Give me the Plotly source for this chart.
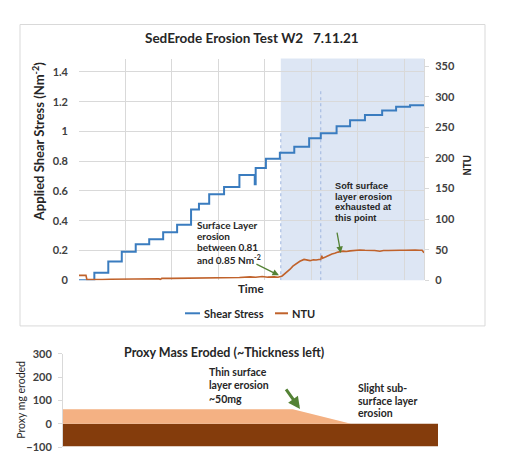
import plotly.graph_objects as go

# ---------------- data ----------------
# Shear stress step series (time units: one vertical gridline = 10)
stress_time = [0, 3.3, 6.3, 9.2, 12.2, 15.1, 18.1, 21.1, 24.1, 25.8, 28.0, 31.2, 34.5,
               37.8, 38.0, 40.2, 43.2, 46.3, 49.5, 52.0, 55.4, 58.3, 61.5, 65.2, 68.2, 71.2, 74.2]
stress_value = [0, 0.05, 0.126, 0.192, 0.242, 0.275, 0.322, 0.373, 0.475, 0.514, 0.577, 0.627, 0.708,
                0.645, 0.754, 0.817, 0.856, 0.897, 0.954, 0.987, 1.035, 1.076, 1.111, 1.14, 1.166, 1.176, 1.176]

# NTU (turbidity) series
ntu_time = [0, 1.5, 1.7, 3.2, 5.0, 6.7, 9.0, 11.0, 13.5, 15.3, 17.2, 17.5, 17.8, 20.0, 23.0, 26.0,
            28.2, 30.0, 32.5, 34.5, 36.8, 38.0, 39.4, 40.6, 42.0, 42.8, 43.7, 44.5, 45.4, 46.0,
            46.7, 47.5, 48.4, 49.0, 49.7, 50.4, 51.0, 51.6, 52.0, 52.2, 52.4, 53.0, 53.5, 54.4,
            55.0, 55.7, 56.8, 57.5, 58.3, 59.3, 60.4, 61.5, 62.6, 63.6, 64.7, 65.5, 66.5, 68.0,
            69.0, 70.1, 71.2, 72.3, 73.2, 73.8, 74.2]
ntu_value = [8, 8, 1, 0.5, 1.0, 1.5, 1.8, 2, 2.2, 2.5, 2.5, 1.2, 3, 3, 3.2, 3.5,
             4.5, 4.0, 4, 4.5, 5.5, 5.0, 6, 5, 5.5, 5, 7, 12, 18, 23,
             27, 31, 34, 33, 32, 33.5, 33, 34, 34, 40, 36, 38, 40, 43,
             44, 46, 47.5, 47, 48, 49, 49.5, 49, 49, 48.5, 47.5, 48.5, 48.5, 49.5,
             49, 49, 49.5, 49.5, 49, 49, 45]

stress_ticks = [0, 0.2, 0.4, 0.6, 0.8, 1, 1.2, 1.4]
ntu_ticks = [0, 50, 100, 150, 200, 250, 300, 350]

shade_start = 43.4           # start of shaded (eroding) period
marker_times = [43.4, 52.0]  # dotted marker lines
marker_tops = [1.0, 1.29]

# Proxy mass eroded (bottom panel)
proxy_x = [0, 61.3, 76.8, 100]
proxy_surface = [62, 62, 0, 0]
proxy_sub_x = [0, 100]
proxy_sub = [-96, -96]
proxy_ticks = [-100, 0, 100, 200, 300]

# arrow targets
arrow1 = (43.0, 8)      # top chart (time, NTU)
arrow2 = (56.3, 44.5)
arrow3 = (63.2, 64)     # bottom chart (x, mg)

# ---------------- figure ----------------
W, H = 509, 470
def px(x): return x / W
def py(y): return 1 - y / H

FONT = "Lato"
TXT = "#404040"
DARK = "#262626"
BLUE = "#3a7cbf"
ORANGE = "#c0622b"
GREEN = "#548235"
GRID = "#d9d9d9"

fig = go.Figure()

fig.add_trace(go.Scatter(x=stress_time, y=stress_value, mode="lines", line_shape="hv",
                         line=dict(color=BLUE, width=2), name="Shear Stress",
                         xaxis="x", yaxis="y", showlegend=False))
fig.add_trace(go.Scatter(x=ntu_time, y=ntu_value, mode="lines",
                         line=dict(color=ORANGE, width=1.6), name="NTU",
                         xaxis="x", yaxis="y2", showlegend=False))

# bottom panel
fig.add_trace(go.Scatter(x=proxy_sub_x, y=proxy_sub, mode="lines", fill="tozeroy",
                         line=dict(color="#843c0c", width=0), fillcolor="#843c0c",
                         showlegend=False, xaxis="x2", yaxis="y3", hoverinfo="skip"))
fig.add_trace(go.Scatter(x=proxy_x, y=proxy_surface, mode="lines", fill="tozeroy",
                         line=dict(color="#f4b183", width=0), fillcolor="#f4b183",
                         showlegend=False, xaxis="x2", yaxis="y3", hoverinfo="skip"))

shapes = [
    # panel border
    dict(type="rect", xref="paper", yref="paper", x0=px(20), x1=px(485), y0=py(328), y1=py(18),
         line=dict(color="#d9d9d9", width=1), layer="below"),
    # shaded period
    dict(type="rect", xref="x", yref="y domain", x0=shade_start, x1=stress_time[-1], y0=0, y1=1,
         fillcolor="rgba(180,199,231,0.45)", line=dict(width=0), layer="below"),
    # legend keys
    dict(type="line", xref="paper", yref="paper", x0=px(185), x1=px(200), y0=py(315), y1=py(315),
         line=dict(color=BLUE, width=2)),
    dict(type="line", xref="paper", yref="paper", x0=px(275), x1=px(288), y0=py(315), y1=py(315),
         line=dict(color=ORANGE, width=2)),
]
for t, top in zip(marker_times, marker_tops):
    shapes.append(dict(type="line", xref="x", yref="y", x0=t, x1=t, y0=0, y1=top,
                       line=dict(color="#9fb6df", width=1, dash="dot"), layer="below"))

annotations = []
def text(s, x, y, size, family=FONT, anchor="left", angle=0, color=DARK):
    annotations.append(dict(text=s, x=px(x), y=py(y), xref="paper", yref="paper", showarrow=False,
                            textangle=angle, font=dict(family=family, size=size, color=color),
                            xanchor=anchor, yanchor="middle"))

def lines(strs, x, ys, size, family=FONT):
    for s, y in zip(strs, ys):
        text("<b>" + s + "</b>", x, y, size, family)

text("<b>SedErode Erosion Test W2   7.11.21</b>", 252, 32, 13.5, anchor="center")
text("<b>Applied Shear Stress (Nm<sup>-2</sup>)</b>", 38, 139, 13, anchor="center", angle=-90)
text("<b>NTU</b>", 467, 163, 10, family="Liberation Sans", anchor="center", angle=-90)
text("<b>Time</b>", 251, 290, 11.5, anchor="center")
text("<b>Shear Stress</b>", 202, 315, 11)
text("<b>NTU</b>", 290, 315, 11)

lines(["Surface Layer", "erosion", "between 0.81"], 195, [224, 235.5, 247], 10)
text("<b>and 0.85 Nm<sup>-2</sup></b>", 195, 259.5, 10)
lines(["Soft surface", "layer erosion", "exhausted at", "this point"], 333, [184, 195, 206, 217], 9.2,
      family="Liberation Sans")

# arrows
annotations.append(dict(text="", x=arrow1[0], y=arrow1[1], xref="x", yref="y2", ax=-24, ay=-12,
                        showarrow=True, arrowhead=2, arrowsize=1, arrowwidth=1.3, arrowcolor=GREEN))
annotations.append(dict(text="", x=arrow2[0], y=arrow2[1], xref="x", yref="y2", ax=-4, ay=-22,
                        showarrow=True, arrowhead=2, arrowsize=1, arrowwidth=1.3, arrowcolor=GREEN))

# bottom panel text
text("<b>Proxy Mass Eroded (~Thickness left)</b>", 224, 355, 12.5, anchor="center")
text("Proxy mg eroded", 21, 404, 10.5, anchor="center", angle=-90)
lines(["Thin surface", "layer erosion", "~50mg"], 207, [375, 389, 403], 10.5)
lines(["Slight sub-", "surface layer", "erosion"], 356, [392, 405, 418], 10.5)
annotations.append(dict(text="", x=arrow3[0], y=arrow3[1], xref="x2", yref="y3", ax=-15, ay=-21,
                        showarrow=True, arrowhead=2, arrowsize=0.8, arrowwidth=3, arrowcolor=GREEN))

tickfont = dict(family=FONT, size=11, color=TXT, weight="bold")

fig.update_layout(
    width=W, height=H, margin=dict(l=0, r=0, t=0, b=0, pad=0),
    paper_bgcolor="white", plot_bgcolor="white",
    showlegend=False,
    xaxis=dict(domain=[px(79), px(424)], range=[0, stress_time[-1]], dtick=10, tick0=0,
               showticklabels=False, showgrid=True, gridcolor=GRID, gridwidth=1,
               zeroline=False, showline=False, ticks="", anchor="y"),
    yaxis=dict(domain=[py(281), py(53)], range=[0, 1.49], tickvals=stress_ticks,
               showgrid=True, gridcolor=GRID, gridwidth=1, zeroline=False, showline=False,
               tickfont=tickfont, ticks="", ticklabelstandoff=10, anchor="x"),
    yaxis2=dict(overlaying="y", side="right", range=[0, 362.5], tickvals=ntu_ticks,
                showgrid=False, zeroline=False, showline=True, linecolor=GRID, linewidth=1,
                ticks="outside", ticklen=4, tickcolor=GRID, tickfont=tickfont, anchor="x",
                ticklabelstandoff=4),
    xaxis2=dict(domain=[px(63), px(438)], range=[0, 100], showticklabels=False, showgrid=False,
                zeroline=False, showline=False, ticks="", anchor="y3"),
    yaxis3=dict(domain=[py(452.7), py(356.7)], range=[-100, 300], tickvals=proxy_ticks,
                showgrid=False, zeroline=False, showline=True, linecolor=GRID, linewidth=1,
                ticks="outside", ticklen=4, tickcolor=GRID, tickfont=tickfont,
                ticklabelstandoff=4, anchor="x2"),
    shapes=shapes,
    annotations=annotations,
)

fig.write_html("out.html", config={"displayModeBar": False},
               post_script="document.body.style.margin='0';")
